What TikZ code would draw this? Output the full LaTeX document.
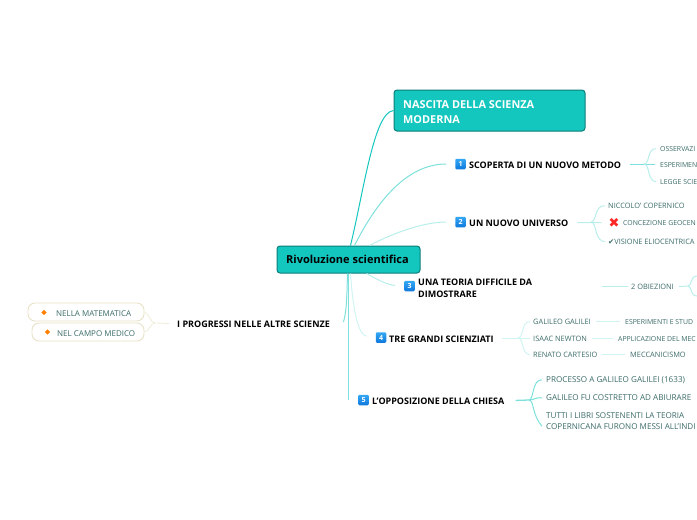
\documentclass[tikz,border=0pt]{standalone}
\usepackage{fontspec}
\usetikzlibrary{shapes.geometric}
\setmainfont{Open Sans}
\newfontfamily\symfont{DejaVu Sans}
\definecolor{tealfill}{HTML}{13C6BE}
\definecolor{tealedge}{HTML}{0B7F78}
\definecolor{leaftext}{HTML}{3A6B68}
\definecolor{pilledge}{HTML}{E8E2C8}
\definecolor{badgetop}{HTML}{35A8F5}
\definecolor{badgebot}{HTML}{0E78DC}
\tikzset{
  title/.style={anchor=west,inner sep=0pt,yshift=-0.8pt,font=\fontsize{9}{12}\selectfont\bfseries,align=left},
  leaf/.style={anchor=west,inner sep=0pt,yshift=-0.8pt,text=leaftext,font=\fontsize{7.4}{9}\selectfont},
  edgeleaf/.style={leaf,font=\fontsize{6.9}{9}\selectfont},
  pillleaf/.style={leaf,font=\fontsize{8}{9}\selectfont},
  bigleaf/.style={leaf,font=\fontsize{8.1}{11}\selectfont,align=left},
  badge/.style={top color=badgetop,bottom color=badgebot,rounded corners=1.2pt,minimum size=10.5pt,inner sep=0pt,text=white,font=\fontsize{7}{7}\selectfont\bfseries},
  pill/.style={draw=pilledge,line width=0.9pt,rounded corners=7pt,fill=white,minimum height=18pt,inner sep=0pt},
  teal1/.style={draw=tealfill,line width=1pt},
  teal2/.style={draw=tealfill!55,line width=1pt},
  teal3/.style={draw=tealfill!30,line width=1pt},
  teal4/.style={draw=tealfill!20,line width=1pt},
  sand/.style={draw=pilledge!70,line width=0.8pt}
}
\begin{document}
\begin{tikzpicture}[x=1pt,y=-1pt]
  \useasboundingbox (0,0) rectangle (697,520);
  \clip (0,0) rectangle (697,520);

  % centre and big topic
  \node[draw=tealedge,fill=tealfill,line width=1pt,rounded corners=3pt,minimum width=143pt,minimum height=27pt,inner sep=0pt,font=\fontsize{11}{13}\selectfont\bfseries] (root) at (348.5,259.5) {\raisebox{-1.2pt}{Rivoluzione scientifica}\hspace*{2pt}};
  \node[draw=tealedge,fill=tealfill,line width=1pt,rounded corners=3pt,minimum width=191pt,minimum height=41pt,inner sep=0pt] (nascitabox) at (489.5,110.5) {};
  \node[title,text=white,font=\fontsize{10.9}{15}\selectfont\bfseries] (nascita) at (403,111) {NASCITA DELLA SCIENZA\\MODERNA};

  % main topics
  \node[badge] (badgeA) at (460.5,164) {1};
  \node[title] (scoperta) at (469,164) {SCOPERTA DI UN NUOVO METODO};
  \node[badge] (badgeB) at (460.5,222) {2};
  \node[title] (universo) at (469,222) {UN NUOVO UNIVERSO};
  \node[badge] (badgeC) at (409.5,286) {3};
  \node[title] (teoria) at (418,287) {UNA TEORIA DIFFICILE DA\\DIMOSTRARE};
  \node[badge] (badgeD) at (381,337.5) {4};
  \node[title] (scienziati) at (389,338) {TRE GRANDI SCIENZIATI};
  \node[badge] (badgeE) at (363.5,400) {5};
  \node[title] (chiesa) at (372,400) {L'OPPOSIZIONE DELLA CHIESA};
  \node[title] (progressi) at (177,323) {I PROGRESSI NELLE ALTRE SCIENZE};

  % leaves on the right
  \node[edgeleaf] (osservazione) at (660,148) {OSSERVAZI};
  \node[edgeleaf] (esperimento) at (660,164) {ESPERIMEN};
  \node[edgeleaf] (legge) at (660,181) {LEGGE SCIE};
  \node[leaf] (niccolo) at (608,205) {NICCOLO' COPERNICO};
  \node[text=red!85!white,font=\symfont\fontsize{13}{13}\selectfont,inner sep=0pt] (cross) at (614,222.5) {✖};
  \node[edgeleaf] (geocentrica) at (623,222) {CONCEZIONE GEOCEN};
  \node[leaf] (eliocentrica) at (608,241) {{\symfont ✔}VISIONE ELIOCENTRICA};
  \node[leaf] (obiezioni) at (631,286) {2 OBIEZIONI};
  \node[leaf] (galilei) at (533,321) {GALILEO GALILEI};
  \node[leaf] (newton) at (533,338) {ISAAC NEWTON};
  \node[leaf] (cartesio) at (533,354) {RENATO CARTESIO};
  \node[edgeleaf] (esperimenti) at (625,321) {ESPERIMENTI E STUD};
  \node[edgeleaf] (applicazione) at (618,338) {APPLICAZIONE DEL MEC};
  \node[leaf] (meccanicismo) at (630,354) {MECCANICISMO};
  \node[bigleaf] (processo) at (546,379) {PROCESSO A GALILEO GALILEI (1633)};
  \node[bigleaf] (abiurare) at (546,397) {GALILEO FU COSTRETTO AD ABIURARE};
  \node[bigleaf] (libri) at (546,420.5) {TUTTI I LIBRI SOSTENENTI LA TEORIA\\COPERNICANA FURONO MESSI ALL'INDI};

  % left side pills
  \node[pill,minimum width=116pt] (matematica) at (86,312) {};
  \node[pill,minimum width=112pt] (medico) at (88,332) {};
  \node[pillleaf] (matematicatext) at (56,313) {NELLA MATEMATICA};
  \node[pillleaf] (medicotext) at (57,333) {NEL CAMPO MEDICO};
  \node[diamond,fill=orange,inner sep=0pt,minimum size=5.5pt] at (44,312.5) (dotA) {};
  \node[diamond,fill=orange,inner sep=0pt,minimum size=5.5pt] at (47.5,332) (dotB) {};

  % free ends and forks
  \coordinate (forkA) at (644,164);
  \coordinate (forkB) at (591,222);
  \coordinate (forkC) at (518,338);
  \coordinate (forkD) at (529,400);
  \coordinate (forkE) at (155,323);
  \coordinate (forkF) at (688,286);
  \coordinate (offtop) at (697,276);
  \coordinate (offbot) at (697,296);

  % branches from the centre
  \draw[teal1] ([xshift=2pt]root.north) .. controls (364,190) and (374,112) .. (nascitabox.west);
  \draw[teal2,shorten >=9pt] ([xshift=6pt]root.north) .. controls (375,205) and (405,164) .. (badgeA.west);
  \draw[teal3,shorten >=9pt] ([xshift=21pt]root.north) .. controls (395,232) and (425,222) .. (badgeB.west);
  \draw[teal3,shorten >=9pt] ([xshift=18pt]root.south) .. controls (378,280) and (388,285) .. (badgeC.west);
  \draw[teal4,shorten >=9pt] ([xshift=2pt]root.south) .. controls (353,310) and (358,335) .. (badgeD.west);
  \draw[teal2,line width=1.2pt] (root.south) -- (root.south|-badgeE.west);
  \draw[teal2] ([xshift=-1pt]root.south) .. controls (347,290) and (347,310) .. (343.5,322);

  % forks on the right
  \draw[teal2,shorten <=9pt,shorten >=5pt] (scoperta.east) -- (esperimento.west);
  \draw[teal3] (forkA) .. controls (650,164) and (647,148) .. ([xshift=-4pt]osservazione.west);
  \draw[teal3] (forkA) .. controls (650,164) and (647,181) .. ([xshift=-4pt]legge.west);
  \draw[teal3,shorten <=9pt,shorten >=7pt] (universo.east) -- (cross.west);
  \draw[teal3] (forkB) .. controls (597,222) and (594,205) .. ([xshift=-3pt]niccolo.west);
  \draw[teal3] (forkB) .. controls (597,222) and (594,241) .. ([xshift=-3pt]eliocentrica.west);
  \draw[teal3,shorten >=3pt] ([xshift=-29pt]obiezioni.west) -- (obiezioni.west);
  \draw[teal3,shorten <=5pt] (obiezioni.east) -- (forkF);
  \draw[teal3] (forkF) .. controls (692,286) and (690,276) .. (offtop);
  \draw[teal3] (forkF) .. controls (692,286) and (690,296) .. (offbot);
  \draw[teal4,shorten <=8pt,shorten >=3pt] (scienziati.east) -- (newton.west);
  \draw[teal4] (forkC) .. controls (524,338) and (521,321) .. ([xshift=-3pt]galilei.west);
  \draw[teal4] (forkC) .. controls (524,338) and (521,354) .. ([xshift=-3pt]cartesio.west);
  \draw[teal4,shorten <=5pt,shorten >=5pt] (galilei.east) -- (esperimenti.west);
  \draw[teal4,shorten <=5pt,shorten >=5pt] (newton.east) -- (applicazione.west);
  \draw[teal4,shorten <=5pt,shorten >=5pt] (cartesio.east) -- (meccanicismo.west);
  \draw[teal2,line width=1.3pt,shorten <=11pt] (chiesa.east) -- (forkD);
  \draw[teal2] (forkD) .. controls (534,400) and (532,379) .. ([xshift=-4pt]processo.west);
  \draw[teal2] (forkD) .. controls (534,400) and (536,397) .. ([xshift=-4pt]abiurare.west);
  \draw[teal2] (forkD) .. controls (534,400) and (532,415) .. ([xshift=-4pt,yshift=-5pt]libri.west);

  % left fork
  \draw[sand,shorten <=8pt] (progressi.west) -- (forkE);
  \draw[sand] (forkE) .. controls (150,323) and (150,314) .. (matematica.east);
  \draw[sand] (forkE) .. controls (150,323) and (150,331) .. (medico.east);
\end{tikzpicture}
\end{document}
